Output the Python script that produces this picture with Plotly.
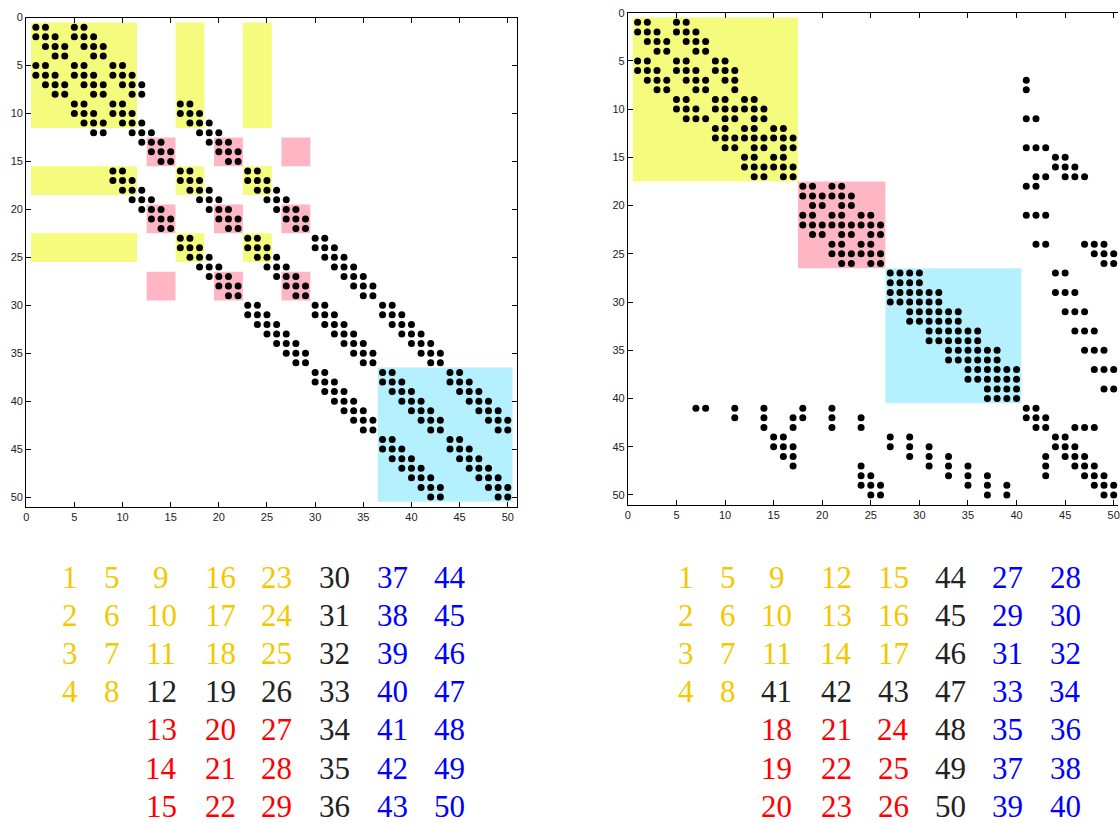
import plotly.graph_objects as go

# ---------------- data ----------------
# nonzero column indices of each row (row 1..50), original ordering
left_rows = [
    [1, 2, 5, 6],
    [1, 2, 3, 5, 6, 7],
    [2, 3, 4, 6, 7, 8],
    [3, 4, 7, 8],
    [1, 2, 5, 6, 9, 10],
    [1, 2, 3, 5, 6, 7, 9, 10, 11],
    [2, 3, 4, 6, 7, 8, 10, 11, 12],
    [3, 4, 7, 8, 11, 12],
    [5, 6, 9, 10, 16, 17],
    [5, 6, 7, 9, 10, 11, 16, 17, 18],
    [6, 7, 8, 10, 11, 12, 17, 18, 19],
    [7, 8, 11, 12, 13, 18, 19, 20],
    [12, 13, 14, 19, 20, 21],
    [13, 14, 15, 20, 21, 22],
    [14, 15, 21, 22],
    [9, 10, 16, 17, 23, 24],
    [9, 10, 11, 16, 17, 18, 23, 24, 25],
    [10, 11, 12, 17, 18, 19, 24, 25, 26],
    [11, 12, 13, 18, 19, 20, 25, 26, 27],
    [12, 13, 14, 19, 20, 21, 26, 27, 28],
    [13, 14, 15, 20, 21, 22, 27, 28, 29],
    [14, 15, 21, 22, 28, 29],
    [16, 17, 23, 24, 30, 31],
    [16, 17, 18, 23, 24, 25, 30, 31, 32],
    [17, 18, 19, 24, 25, 26, 31, 32, 33],
    [18, 19, 20, 25, 26, 27, 32, 33, 34],
    [19, 20, 21, 26, 27, 28, 33, 34, 35],
    [20, 21, 22, 27, 28, 29, 34, 35, 36],
    [21, 22, 28, 29, 35, 36],
    [23, 24, 30, 31, 37, 38],
    [23, 24, 25, 30, 31, 32, 37, 38, 39],
    [24, 25, 26, 31, 32, 33, 38, 39, 40],
    [25, 26, 27, 32, 33, 34, 39, 40, 41],
    [26, 27, 28, 33, 34, 35, 40, 41, 42],
    [27, 28, 29, 34, 35, 36, 41, 42, 43],
    [28, 29, 35, 36, 42, 43],
    [30, 31, 37, 38, 44, 45],
    [30, 31, 32, 37, 38, 39, 44, 45, 46],
    [31, 32, 33, 38, 39, 40, 45, 46, 47],
    [32, 33, 34, 39, 40, 41, 46, 47, 48],
    [33, 34, 35, 40, 41, 42, 47, 48, 49],
    [34, 35, 36, 41, 42, 43, 48, 49, 50],
    [35, 36, 42, 43, 49, 50],
    [37, 38, 44, 45],
    [37, 38, 39, 44, 45, 46],
    [38, 39, 40, 45, 46, 47],
    [39, 40, 41, 46, 47, 48],
    [40, 41, 42, 47, 48, 49],
    [41, 42, 43, 48, 49, 50],
    [42, 43, 49, 50],
]

# nonzero column indices of each row (row 1..50), reordered matrix
right_rows = [
    [1, 2, 5, 6],
    [1, 2, 3, 5, 6, 7],
    [2, 3, 4, 6, 7, 8],
    [3, 4, 7, 8],
    [1, 2, 5, 6, 9, 10],
    [1, 2, 3, 5, 6, 7, 9, 10, 11],
    [2, 3, 4, 6, 7, 8, 10, 11, 41],
    [3, 4, 7, 8, 11, 41],
    [5, 6, 9, 10, 12, 13],
    [5, 6, 7, 9, 10, 11, 12, 13, 14],
    [6, 7, 8, 10, 11, 13, 14, 41, 42],
    [9, 10, 12, 13, 15, 16],
    [9, 10, 11, 12, 13, 14, 15, 16, 17],
    [10, 11, 13, 14, 16, 17, 41, 42, 43],
    [12, 13, 15, 16, 44, 45],
    [12, 13, 14, 15, 16, 17, 44, 45, 46],
    [13, 14, 16, 17, 42, 43, 45, 46, 47],
    [18, 19, 21, 22, 41, 42],
    [18, 19, 20, 21, 22, 23],
    [19, 20, 22, 23],
    [18, 19, 21, 22, 24, 25, 41, 42, 43],
    [18, 19, 20, 21, 22, 23, 24, 25, 26],
    [19, 20, 22, 23, 25, 26],
    [21, 22, 24, 25, 42, 43, 47, 48, 49],
    [21, 22, 23, 24, 25, 26, 48, 49, 50],
    [22, 23, 25, 26, 49, 50],
    [27, 28, 29, 30, 44, 45],
    [27, 28, 29, 30],
    [27, 28, 29, 30, 31, 32, 44, 45, 46],
    [27, 28, 29, 30, 31, 32],
    [29, 30, 31, 32, 33, 34, 45, 46, 47],
    [29, 30, 31, 32, 33, 34],
    [31, 32, 33, 34, 35, 36, 46, 47, 48],
    [31, 32, 33, 34, 35, 36],
    [33, 34, 35, 36, 37, 38, 47, 48, 49],
    [33, 34, 35, 36, 37, 38],
    [35, 36, 37, 38, 39, 40, 48, 49, 50],
    [35, 36, 37, 38, 39, 40],
    [37, 38, 39, 40, 49, 50],
    [37, 38, 39, 40],
    [7, 8, 11, 14, 18, 21, 41, 42],
    [11, 14, 17, 18, 21, 24, 41, 42, 43],
    [14, 17, 21, 24, 42, 43, 46, 47, 48],
    [15, 16, 27, 29, 44, 45],
    [15, 16, 17, 27, 29, 31, 44, 45, 46],
    [16, 17, 29, 31, 33, 43, 45, 46, 47],
    [17, 24, 31, 33, 35, 43, 46, 47, 48],
    [24, 25, 33, 35, 37, 43, 47, 48, 49],
    [24, 25, 26, 35, 37, 39, 48, 49, 50],
    [25, 26, 37, 39, 49, 50],
]

# node numbering tables (columns of the grid, top to bottom)
left_table = [
    [1, 2, 3, 4],
    [5, 6, 7, 8],
    [9, 10, 11, 12, 13, 14, 15],
    [16, 17, 18, 19, 20, 21, 22],
    [23, 24, 25, 26, 27, 28, 29],
    [30, 31, 32, 33, 34, 35, 36],
    [37, 38, 39, 40, 41, 42, 43],
    [44, 45, 46, 47, 48, 49, 50],
]
right_table = [
    [1, 2, 3, 4],
    [5, 6, 7, 8],
    [9, 10, 11, 41, 18, 19, 20],
    [12, 13, 14, 42, 21, 22, 23],
    [15, 16, 17, 43, 24, 25, 26],
    [44, 45, 46, 47, 48, 49, 50],
    [27, 29, 31, 33, 35, 37, 39],
    [28, 30, 32, 34, 36, 38, 40],
]

# index groups (inclusive ranges)
left_groups = {
    "yellow": [(1, 11), (16, 18), (23, 25)],
    "red": [(13, 15), (20, 22), (27, 29)],
    "blue": [(37, 50)],
}
right_groups = {
    "yellow": [(1, 17)],
    "red": [(18, 26)],
    "blue": [(27, 40)],
}

tick_vals = [0, 5, 10, 15, 20, 25, 30, 35, 40, 45, 50]

# ---------------- styles ----------------
W, H = 1120, 823
BLOCK_FILL = {"yellow": "#f5fb7c", "red": "#ffb6c4", "blue": "#b4f0fd"}
TEXT_COLOR = {"yellow": "#f4c800", "red": "#ff0000", "blue": "#0000ff", None: "#222222"}

left_col_x = [67, 109, 159, 218, 275, 333, 391, 449]
right_col_x = [686, 728, 777, 837, 894, 952, 1009, 1067]
row_y = [576, 614, 652, 691, 729, 768, 806]


def group_of(label, groups):
    for g, ranges in groups.items():
        for a, b in ranges:
            if a <= label <= b:
                return g
    return None


def spy_points(rows):
    xs, ys = [], []
    for i, cols in enumerate(rows, start=1):
        for c in cols:
            xs.append(c)
            ys.append(i)
    return xs, ys


fig = go.Figure()

for rows, xa, ya in [(left_rows, "x", "y"), (right_rows, "x2", "y2")]:
    xs, ys = spy_points(rows)
    fig.add_trace(go.Scatter(
        x=xs, y=ys, mode="markers", xaxis=xa, yaxis=ya,
        marker=dict(symbol="circle", size=7, color="#000000", line=dict(width=0)),
        hoverinfo="skip", showlegend=False,
    ))

shapes = []
for groups, xr, yr in [(left_groups, "x", "y"), (right_groups, "x2", "y2")]:
    for g, ranges in groups.items():
        for (ra, rb) in ranges:
            for (ca, cb) in ranges:
                shapes.append(dict(
                    type="rect", xref=xr, yref=yr,
                    x0=ca - 0.5, x1=cb + 0.5, y0=ra - 0.5, y1=rb + 0.5,
                    fillcolor=BLOCK_FILL[g], line=dict(width=0), layer="below",
                ))

annotations = []
for table, col_x, groups in [(left_table, left_col_x, left_groups),
                             (right_table, right_col_x, right_groups)]:
    for ci, col in enumerate(table):
        for ri, lab in enumerate(col):
            annotations.append(dict(
                x=col_x[ci] / W, y=1 - row_y[ri] / H, xref="paper", yref="paper",
                text=str(lab), showarrow=False, xanchor="center", yanchor="middle",
                font=dict(family="Liberation Serif, DejaVu Serif, serif", size=31,
                          color=TEXT_COLOR[group_of(lab, groups)]),
            ))

axis_common = dict(
    showgrid=False, zeroline=False, showline=True, linecolor="#000000", linewidth=1,
    ticks="inside", ticklen=5, tickwidth=1, tickcolor="#000000",
    tickmode="array", tickvals=tick_vals, ticktext=[str(v) for v in tick_vals],
    tickfont=dict(family="Liberation Sans, Arial, sans-serif", size=11, color="#222222"),
)

# right plot is cut by the window edge: x=0 at 627.7px, 9.76 px per unit
right_xmax = (W - 627.7) / 9.76

fig.update_layout(
    width=W, height=H, margin=dict(l=0, r=0, t=0, b=0),
    paper_bgcolor="white", plot_bgcolor="white",
    xaxis=dict(domain=[23.3 / W, 516.7 / W], range=[0, 51], anchor="y",
               mirror="ticks", **axis_common),
    yaxis=dict(domain=[1 - 504.3 / H, 1 - 11.7 / H], range=[51, 0], anchor="x",
               mirror="ticks", **axis_common),
    xaxis2=dict(domain=[627.7 / W, 1.0], range=[0, right_xmax], anchor="y2",
                mirror="ticks", ticklabeloverflow="allow", **axis_common),
    yaxis2=dict(domain=[1 - 502.3 / H, 1 - 6.7 / H], range=[51, 0], anchor="x2",
                mirror=False, **axis_common),
    shapes=shapes, annotations=annotations, showlegend=False,
)

fig.write_html("out.html")
